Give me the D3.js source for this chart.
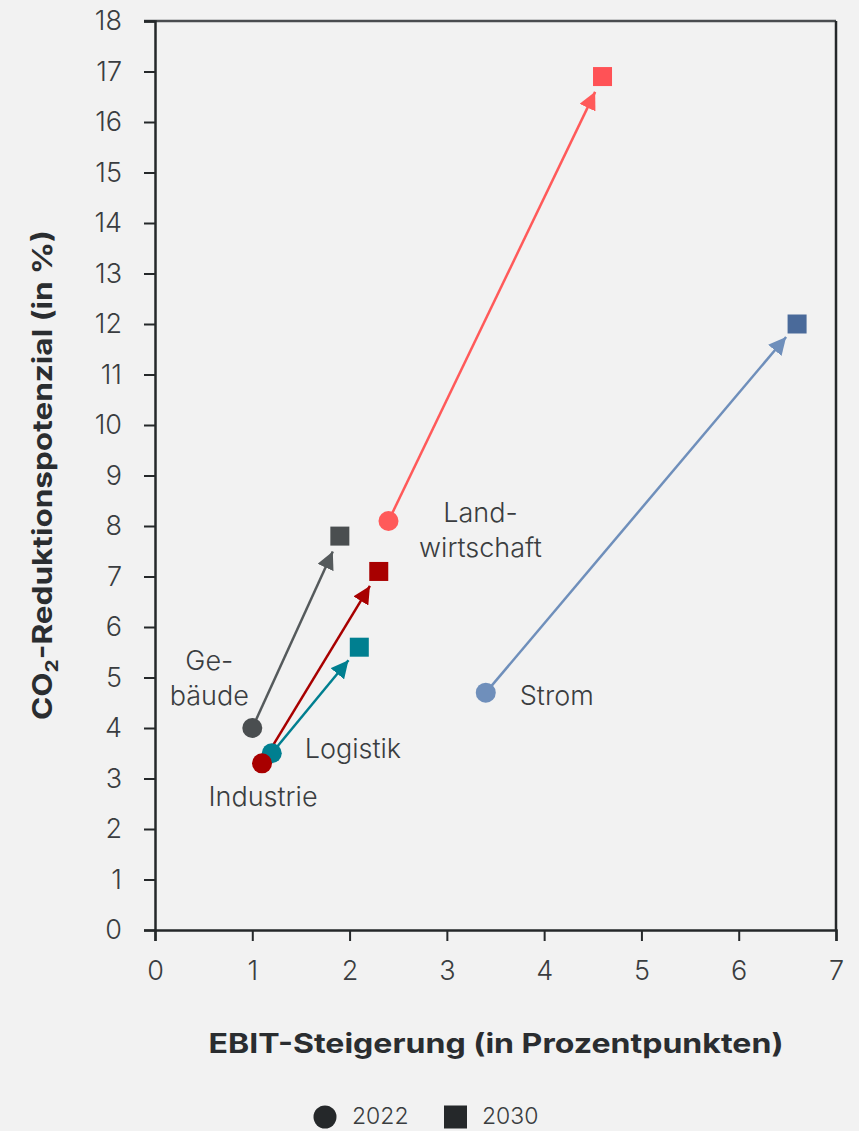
<!DOCTYPE html>
<html>
<head>
<meta charset="utf-8">
<script src="https://cdn.jsdelivr.net/npm/d3@7"></script>
<style>
  html, body { margin: 0; padding: 0; background: #f2f2f2; }
  svg { display: block; }
  .tick text { font-family: Inter, "Noto Sans", sans-serif; font-weight: 300; }
</style>
</head>
<body>
<script>
// sectors and their values (EBIT increase in pp, CO2 reduction in %)
var sectors = ["Landwirtschaft", "Strom", "Gebäude", "Industrie", "Logistik"];
var ebit2022 = [2.4, 3.4, 1.0, 1.1, 1.2];
var co2_2022 = [8.1, 4.7, 4.0, 3.3, 3.5];
var ebit2030 = [4.6, 6.6, 1.9, 2.3, 2.1];
var co2_2030 = [16.9, 12.0, 7.8, 7.1, 5.6];
var circleColors = ["#ff5a5a", "#6f8fbb", "#4a4e50", "#a80000", "#007f90"];
var squareColors = ["#ff5256", "#4a6a9a", "#4a4e50", "#a80000", "#007f90"];
var lineColors = ["#ff5a5a", "#6f8fbb", "#555a5c", "#a80000", "#007f90"];
var labelLines = [["Land-", "wirtschaft"], ["Strom"], ["Ge-", "bäude"], ["Industrie"], ["Logistik"]];
var xTicks = [0, 1, 2, 3, 4, 5, 6, 7];
var yTicks = d3.range(0, 19);
var legendYears = ["2022", "2030"];

var width = 859, height = 1131;
var margin = {top: 21, right: 23, bottom: 201, left: 155};

var svg = d3.select("body").append("svg")
  .attr("width", width)
  .attr("height", height);

svg.append("rect").attr("width", width).attr("height", height).attr("fill", "#f2f2f2");

var x = d3.scaleLinear().domain([0, 7]).range([margin.left, width - margin.right]);
var y = d3.scaleLinear().domain([0, 18]).range([height - margin.bottom, margin.top]);

var axisColor = "#25282a";
var textColor = "#3a3d40";

// frame: top and right lines
svg.append("line")
  .attr("x1", x(0) - 11).attr("x2", x(7))
  .attr("y1", y(18)).attr("y2", y(18))
  .attr("stroke", "#4a4d50").attr("stroke-width", 2.5);
svg.append("line")
  .attr("x1", x(7)).attr("x2", x(7))
  .attr("y1", y(18)).attr("y2", y(0))
  .attr("stroke", axisColor).attr("stroke-width", 2.5);

var xAxis = svg.append("g")
  .attr("transform", "translate(0," + y(0) + ")")
  .call(d3.axisBottom(x).tickValues(xTicks).tickSize(11).tickPadding(20).tickFormat(d3.format("d")));
xAxis.selectAll("text").attr("font-size", 27).attr("fill", textColor);

var yAxis = svg.append("g")
  .attr("transform", "translate(" + x(0) + ",0)")
  .call(d3.axisLeft(y).tickValues(yTicks).tickSize(11).tickPadding(22).tickFormat(d3.format("d")));
yAxis.selectAll("text").attr("font-size", 27).attr("fill", textColor);

svg.selectAll(".domain").attr("stroke", axisColor).attr("stroke-width", 2.5);
svg.selectAll(".tick line").attr("stroke", axisColor).attr("stroke-width", 2);

// axis titles
svg.append("text")
  .attr("x", 496).attr("y", 1053)
  .attr("text-anchor", "middle")
  .attr("font-family", "Inter, sans-serif")
  .attr("font-weight", 700)
  .attr("font-size", 27)
  .attr("textLength", 575)
  .attr("lengthAdjust", "spacingAndGlyphs")
  .attr("fill", "#2a2d30")
  .text("EBIT-Steigerung (in Prozentpunkten)");

var yTitle = svg.append("text")
  .attr("transform", "translate(52,475) rotate(-90)")
  .attr("text-anchor", "middle")
  .attr("font-family", "Inter, sans-serif")
  .attr("font-weight", 700)
  .attr("font-size", 27)
  .attr("textLength", 490)
  .attr("lengthAdjust", "spacingAndGlyphs")
  .attr("fill", "#2a2d30");
yTitle.append("tspan").text("CO");
yTitle.append("tspan").attr("font-size", 18).attr("dy", 6).text("2");
yTitle.append("tspan").attr("dy", -6).text("-Reduktionspotenzial (in %)");

// arrow markers
var defs = svg.append("defs");
sectors.forEach(function(s, i) {
  defs.append("marker")
    .attr("id", "arrow" + i)
    .attr("viewBox", "0 0 10 10")
    .attr("refX", 10).attr("refY", 5)
    .attr("markerWidth", 7).attr("markerHeight", 7)
    .attr("markerUnits", "strokeWidth")
    .attr("orient", "auto")
    .append("path")
    .attr("d", "M0,0 L10,5 L0,10 z")
    .attr("fill", lineColors[i]);
});

var data = sectors.map(function(s, i) {
  return {i: i, name: s, x0: ebit2022[i], y0: co2_2022[i], x1: ebit2030[i], y1: co2_2030[i]};
});

// draw order so that Industrie sits on top of Logistik
var order = [0, 1, 2, 4, 3];
var ordered = order.map(function(k) { return data[k]; });

var g = svg.append("g");

ordered.forEach(function(d) {
  var px0 = x(d.x0), py0 = y(d.y0), px1 = x(d.x1), py1 = y(d.y1);
  var dx = px1 - px0, dy = py1 - py0;
  var len = Math.sqrt(dx * dx + dy * dy);
  var endOff = 17;
  g.append("line")
    .attr("x1", px0).attr("y1", py0)
    .attr("x2", px1 - dx / len * endOff).attr("y2", py1 - dy / len * endOff)
    .attr("stroke", lineColors[d.i])
    .attr("stroke-width", 2.5)
    .attr("marker-end", "url(#arrow" + d.i + ")");
});

ordered.forEach(function(d) {
  g.append("rect")
    .attr("x", x(d.x1) - 9.5).attr("y", y(d.y1) - 9.5)
    .attr("width", 19).attr("height", 19)
    .attr("fill", squareColors[d.i]);
});

ordered.forEach(function(d) {
  g.append("circle")
    .attr("cx", x(d.x0)).attr("cy", y(d.y0))
    .attr("r", 10)
    .attr("fill", circleColors[d.i]);
});

// sector labels, placed relative to the 2022 point
var labelOffsets = [
  {dx: 92, dy: 1, anchor: "middle"},
  {dx: 34, dy: 12, anchor: "start"},
  {dx: -43, dy: -58, anchor: "middle"},
  {dx: 1, dy: 43, anchor: "middle"},
  {dx: 33, dy: 5, anchor: "start"}
];

data.forEach(function(d) {
  var o = labelOffsets[d.i];
  var t = svg.append("text")
    .attr("x", x(d.x0) + o.dx)
    .attr("y", y(d.y0) + o.dy)
    .attr("text-anchor", o.anchor)
    .attr("font-family", "Inter, sans-serif")
    .attr("font-weight", 300)
    .attr("font-size", 27)
    .attr("fill", textColor);
  labelLines[d.i].forEach(function(line, k) {
    t.append("tspan")
      .attr("x", x(d.x0) + o.dx)
      .attr("dy", k === 0 ? 0 : 35)
      .text(line);
  });
});

// legend
var legend = svg.append("g").attr("transform", "translate(0,1117)");
legend.append("circle").attr("cx", 325).attr("cy", 0).attr("r", 11.5).attr("fill", "#25282a");
legend.append("rect").attr("x", 444).attr("y", -11.5).attr("width", 23).attr("height", 23).attr("fill", "#25282a");
legend.selectAll("text.leg")
  .data(legendYears)
  .enter()
  .append("text")
  .attr("class", "leg")
  .attr("x", function(d, i) { return i === 0 ? 352 : 482; })
  .attr("y", 7)
  .attr("font-family", "Inter, sans-serif")
  .attr("font-weight", 300)
  .attr("font-size", 23)
  .attr("fill", textColor)
  .text(function(d) { return d; });
</script>
</body>
</html>
